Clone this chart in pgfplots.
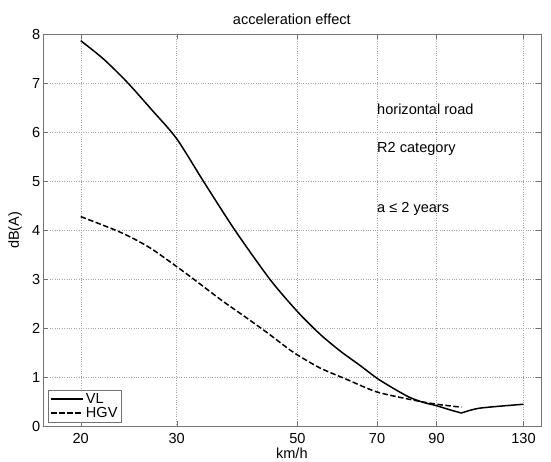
\documentclass[border=0pt]{standalone}
\usepackage{fontspec}
\setmainfont{Liberation Sans}
\usepackage{pgfplots}
\pgfplotsset{compat=1.18}
\begin{document}
\begin{tikzpicture}
\begin{axis}[
  name=ax, at={(0,0)}, anchor=south west,
  scale only axis, width=498.3bp, height=392bp,
  xmode=log, xmin=17.03, xmax=140,
  ymin=0, ymax=8,
  xtick={20,30,50,70,90,130}, xticklabels={20,30,50,70,90,130},
  minor xtick={},
  ytick={0,1,2,3,4,5,6,7,8},
  grid=major, major grid style={gray!70, dotted},
  tick align=inside, major tick length=5bp,
  tick style={gray!90!black},
  axis line style={gray!90!black},
  font=\fontsize{14.6}{16}\selectfont,
  /pgf/number format/assume math mode=true,
  xticklabel style={anchor=base, yshift=-17bp},
  yticklabel style={xshift=1bp},
  legend style={at={(axis description cs:0.0112,0.011)}, anchor=south west,
    draw=gray!90!black, fill=white, inner xsep=2bp, inner ysep=1bp,
    font=\fontsize{14.6}{16}\selectfont, row sep=-1.5bp,
    nodes={inner sep=2bp}},
  legend cell align=left,
  legend image code/.code={\draw[#1] (0bp,0bp) -- (32bp,0bp);},
]
\addplot[black, line width=1.5bp, smooth, tension=0.45] coordinates {
(20,7.87) (22,7.50) (24.3,7.03) (27,6.46) (30,5.87) (33.6,5.00) (38.4,4.00)
(44.5,3.00) (50,2.34) (55,1.88) (60,1.53) (65,1.25) (70,0.98) (75,0.775)
(80,0.60) (85,0.49) (90,0.42) (95,0.34) (100,0.27)
};
\addlegendentry{VL}
\addplot[black, line width=1.5bp, dash pattern=on 5.5bp off 2.5bp, smooth, tension=0.45] coordinates {
(20,4.28) (23.2,4.00) (25,3.83) (27,3.62) (30,3.26) (32,3.03) (36.3,2.57)
(40,2.24) (44,1.91) (48.4,1.56) (50,1.455) (55,1.19) (61.5,0.96) (70,0.70)
(82,0.53) (90,0.45) (100,0.39)
};
\addlegendentry{HGV}
\addplot[black, line width=1.5bp, smooth, tension=0.45, forget plot] coordinates {
(100,0.27) (108,0.37) (130,0.45)
};
\node[anchor=base west, inner sep=0] at (axis cs:70,6.37) {horizontal road};
\node[anchor=base west, inner sep=0] at (axis cs:70,5.58) {R2 category};
\node[anchor=base west, inner sep=0] at (axis cs:70,4.36) {a ≤ 2 years};
\end{axis}
\node[anchor=base] at ([yshift=9.3bp]ax.north) {\fontsize{14.6}{16}\selectfont acceleration effect};
\node[anchor=base] at ([yshift=-32.6bp]ax.south) {\fontsize{14.6}{16}\selectfont km/h};
\node[rotate=90] at ([xshift=-27.7bp]ax.west) {\fontsize{14.6}{16}\selectfont dB(A)};
\pgfresetboundingbox
\path[use as bounding box] ([shift={(-42.7bp,-35.7bp)}]ax.south west) rectangle ([shift={(508.3bp,426.3bp)}]ax.south west);
\end{tikzpicture}
\end{document}
